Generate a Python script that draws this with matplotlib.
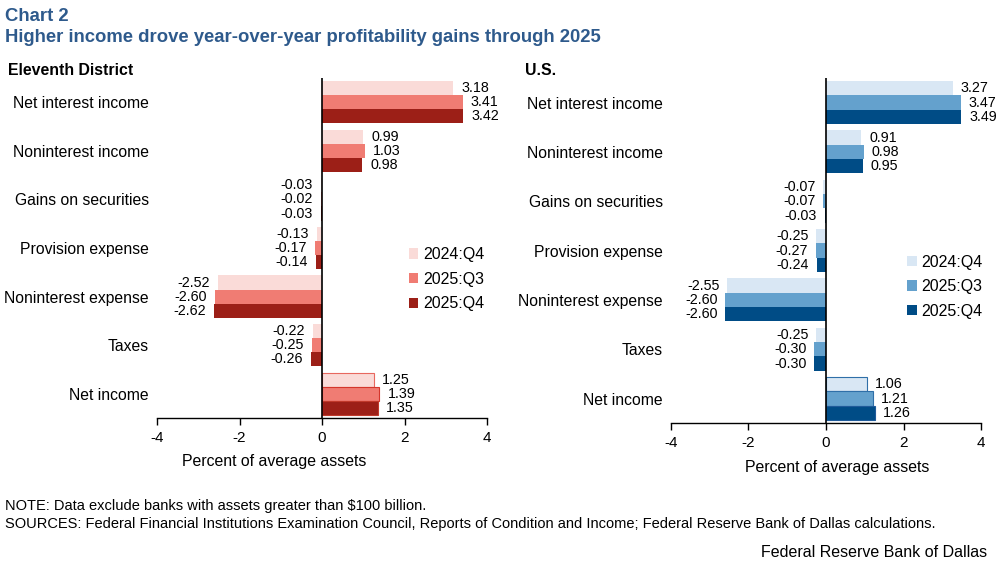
import numpy as np
import matplotlib.pyplot as plt

plt.rcParams['font.family'] = ['Liberation Sans', 'DejaVu Sans']

categories = ['Net interest income', 'Noninterest income', 'Gains on securities',
              'Provision expense', 'Noninterest expense', 'Taxes', 'Net income']
periods = ['2024:Q4', '2025:Q3', '2025:Q4']

# Eleventh District
tx_q4_24 = [3.18, 0.99, -0.03, -0.13, -2.52, -0.22, 1.25]
tx_q3_25 = [3.41, 1.03, -0.02, -0.17, -2.60, -0.25, 1.39]
tx_q4_25 = [3.42, 0.98, -0.03, -0.14, -2.62, -0.26, 1.35]

# U.S.
us_q4_24 = [3.27, 0.91, -0.07, -0.25, -2.55, -0.25, 1.06]
us_q3_25 = [3.47, 0.98, -0.07, -0.27, -2.60, -0.30, 1.21]
us_q4_25 = [3.49, 0.95, -0.03, -0.24, -2.60, -0.30, 1.26]

red_cols = ['#FADBD8', '#F07C73', '#9C1F17']
red_edges = ['#E8685F', '#D4362C', '#C0392B']
blue_cols = ['#D9E7F4', '#64A1CD', '#004C86']
blue_edges = ['#2F6FA8', '#2F6FA8', '#1F5A99']

title_col = '#2E5A8C'

fig = plt.figure(figsize=(9.97, 5.65), dpi=100)

fig.text(0.005, 0.962, 'Chart 2', fontsize=13.3, fontweight='bold', color=title_col)
fig.text(0.005, 0.925, 'Higher income drove year-over-year profitability gains through 2025',
         fontsize=13.3, fontweight='bold', color=title_col)


def draw_panel(ax, series, cols, edges, title, title_x, legend_pos, xlab_x, xlab_y):
    y = np.arange(len(categories))
    h = 0.29
    for i, vals in enumerate(series):
        ypos = y + (i - 1) * h
        ew = [0.8 if c == 'Net income' else 0 for c in categories]
        ax.barh(ypos, vals, height=h, color=cols[i], edgecolor=edges[i],
                linewidth=ew, label=periods[i], zorder=2)
        for yy, v in zip(ypos, vals):
            if v >= 0:
                ax.text(v + 0.2, yy, f'{v:.2f}', va='center', ha='left', fontsize=10.3)
            else:
                ax.text(v - 0.2, yy, f'{v:.2f}', va='center', ha='right', fontsize=10.3)
    ax.set_ylim(6.5, -0.5)
    ax.set_xlim(-4, 4)
    ax.set_xticks([-4, -2, 0, 2, 4])
    ax.set_xticklabels(['-4', '-2', '0', '2', '4'], fontsize=11)
    ax.set_yticks(y)
    ax.set_yticklabels(categories, fontsize=11.3)
    ax.tick_params(axis='y', length=0, pad=6)
    ax.tick_params(axis='x', length=5, direction='out', width=1, pad=4)
    for s in ['top', 'right', 'left']:
        ax.spines[s].set_visible(False)
    ax.spines['bottom'].set_linewidth(1)
    ax.axvline(0, color='black', linewidth=1.2, zorder=3)
    fig.text(title_x, 0.868, title, fontsize=11.4, fontweight='bold')
    fig.text(xlab_x, xlab_y, 'Percent of average assets', fontsize=11.4, ha='center')
    ax.legend(loc='upper left', bbox_to_anchor=legend_pos, frameon=False, fontsize=11.5,
              handlelength=0.6, handleheight=0.6, handletextpad=0.3, labelspacing=0.6)


ax1 = fig.add_axes([0.1575, 0.26, 0.331, 0.602])
draw_panel(ax1, [tx_q4_24, tx_q3_25, tx_q4_25], red_cols, red_edges,
           'Eleventh District', 0.008, (0.719, 0.545), 0.275, 0.175)

ax2 = fig.add_axes([0.673, 0.251, 0.311, 0.611])
draw_panel(ax2, [us_q4_24, us_q3_25, us_q4_25], blue_cols, blue_edges,
           'U.S.', 0.527, (0.715, 0.53), 0.840, 0.165)

fig.text(0.005, 0.097, 'NOTE: Data exclude banks with assets greater than $100 billion.', fontsize=10.5)
fig.text(0.005, 0.065, 'SOURCES: Federal Financial Institutions Examination Council, Reports of Condition '
         'and Income; Federal Reserve Bank of Dallas calculations.', fontsize=10.5)
fig.text(0.99, 0.015, 'Federal Reserve Bank of Dallas', fontsize=11.5, ha='right')

fig.savefig('out.png', dpi=100)
